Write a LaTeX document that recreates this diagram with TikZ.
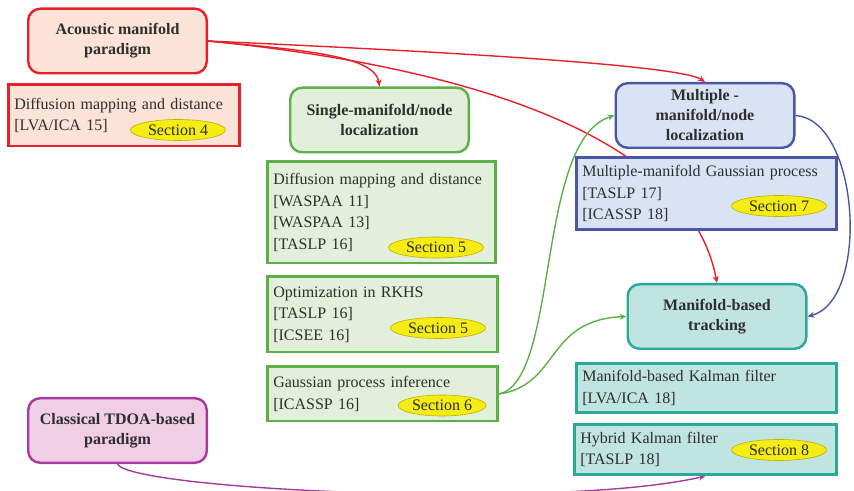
\documentclass[tikz,border=0pt]{standalone}
\usepackage{fontspec}
\setmainfont{Liberation Serif}
\usetikzlibrary{positioning, arrows.meta, shapes.geometric, calc}

\pgfdeclarelayer{background}
\pgfsetlayers{background,main}

\definecolor{redline}{HTML}{E8202A}
\definecolor{redfill}{HTML}{FBE3D8}
\definecolor{greenline}{HTML}{5DAF48}
\definecolor{greenfill}{HTML}{E2EFDA}
\definecolor{blueline}{HTML}{4A56A6}
\definecolor{bluefill}{HTML}{DAE3F3}
\definecolor{tealline}{HTML}{2AA89B}
\definecolor{tealfill}{HTML}{C0E4E0}
\definecolor{purpline}{HTML}{A63A9E}
\definecolor{purpfill}{HTML}{F0CEE3}
\definecolor{secfill}{HTML}{F5EC14}
\definecolor{secline}{HTML}{BDB000}
\definecolor{textgray}{HTML}{2E2E2E}

\begin{document}
\begin{tikzpicture}[x=1pt, y=1pt, node distance=10pt, text=textgray,
  font=\fontsize{16}{21.5}\selectfont,
  head/.style={draw, rounded corners=12pt, line width=2.4pt,
    minimum width=178.6pt, minimum height=64.6pt, align=center,
    font=\fontsize{16}{20}\selectfont\bfseries},
  refbox/.style={draw, line width=2.6pt, align=left, inner xsep=6pt},
  sec/.style={ellipse, draw=secline, fill=secfill, line width=0.6pt,
    minimum width=95pt, minimum height=21pt, inner sep=0pt},
  link/.style={line width=1.4pt, -{Stealth[length=7pt, width=6pt]}}]
\useasboundingbox (0,0) rectangle (854,490);

\node (acoustic) [head, draw=redline, fill=redfill] at (117.5,449) {Acoustic manifold\\paradigm};
\node (lva) [refbox, draw=redline, fill=redfill, text width=219.4pt, minimum height=61.4pt,
  below=9pt of acoustic, xshift=6.5pt] {Diffusion mapping and distance\\{[LVA/ICA 15]}};
\node (sec4) [sec] at ($(lva.south east)+(-63,17.5)$) {Section 4};

\node (single) [head, draw=greenline, fill=greenfill] at (379.5,370) {Single-manifold/node\\localization};
\node (dm) [refbox, draw=greenline, fill=greenfill, text width=216.4pt, minimum height=101.4pt,
  below=7pt of single, xshift=2pt] {Diffusion mapping and distance\\{[WASPAA 11]}\\{[WASPAA 13]}\\{[TASLP 16]}};
\node (sec5a) [sec] at ($(dm.south east)+(-61,17)$) {Section 5};
\node (rkhs) [refbox, draw=greenline, fill=greenfill, text width=218.4pt, minimum height=75.4pt,
  below=11pt of dm.south west, anchor=north west] {Optimization in RKHS\\{[TASLP 16]}\\{[ICSEE 16]}};
\node (sec5b) [sec] at ($(rkhs.south east)+(-61,25.5)$) {Section 5};
\node (gp) [refbox, draw=greenline, fill=greenfill, text width=218.4pt, minimum height=54.4pt,
  below=12pt of rkhs.south west, anchor=north west] {Gaussian process inference\\{[ICASSP 16]}};
\node (sec6) [sec, minimum width=88pt] at ($(gp.south east)+(-57,17)$) {Section 6};

\node (multi) [head, draw=blueline, fill=bluefill] at (705,374.5) {Multiple -\\manifold/node\\localization};
\node (mmgp) [refbox, draw=blueline, fill=bluefill, text width=248.4pt, minimum height=72.4pt,
  below=7pt of multi, xshift=1.5pt] {Multiple-manifold Gaussian process\\{[TASLP 17]}\\{[ICASSP 18]}};
\node (sec7) [sec] at ($(mmgp.south east)+(-59,25)$) {Section 7};

\node (track) [head, draw=tealline, fill=tealfill] at (717,173.5) {Manifold-based\\tracking};
\node (mkf) [refbox, draw=tealline, fill=tealfill, text width=248.4pt, minimum height=49.4pt,
  below=12pt of track, xshift=-10.5pt] {Manifold-based Kalman filter\\{[LVA/ICA 18]}};
\node (hkf) [refbox, draw=tealline, fill=tealfill, text width=250.4pt, minimum height=50.4pt,
  below=9pt of mkf.south east, anchor=north east] {Hybrid Kalman filter\\{[TASLP 18]}};
\node (sec8) [sec] at ($(hkf.south east)+(-59,26)$) {Section 8};

\node (classic) [head, draw=purpline, fill=purpfill] at (117.5,59.5) {Classical TDOA-based\\paradigm};

\begin{pgfonlayer}{background}
\draw[link, redline] (acoustic.east) .. controls (300,440) and (375,435) .. (single.north);
\draw[link, redline] (acoustic.east) .. controls (450,438) and (680,425) .. (multi.north);
\draw[link, redline] (acoustic.east) .. controls (480,422) and (690,350) .. (track.north);
\draw[link, greenline] (gp.east) .. controls (560,110) and (535,350) .. (multi.west);
\draw[link, greenline] (gp.east) .. controls (560,105) and (545,170) .. (track.west);
\draw[link, blueline] (multi.east) .. controls (860,370) and (870,190) .. (track.east);
\draw[link, purpline] (classic.south) .. controls (130,0) and (560,-20) .. (hkf.south);
\end{pgfonlayer}
\end{tikzpicture}
\end{document}
